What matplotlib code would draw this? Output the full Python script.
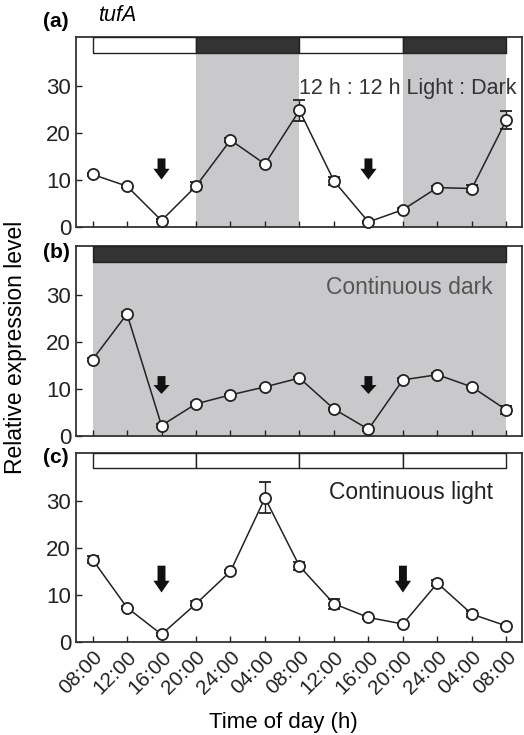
import matplotlib
matplotlib.use("Agg")
import matplotlib.pyplot as plt

plt.rcParams['font.family'] = ['Liberation Sans', 'DejaVu Sans']

# time points (13 samples, every 4 h over 48 h)
time_labels = ["08:00", "12:00", "16:00", "20:00", "24:00", "04:00", "08:00",
               "12:00", "16:00", "20:00", "24:00", "04:00", "08:00"]
x = list(range(len(time_labels)))

# (a) 12 h : 12 h light/dark
ld_mean = [11.2, 8.7, 1.4, 8.7, 18.5, 13.4, 24.8, 9.8, 1.1, 3.7, 8.4, 8.2, 22.8]
ld_err = [0.3, 0.3, 0.3, 0.8, 0.4, 0.3, 2.3, 0.8, 0.3, 0.3, 0.3, 0.8, 1.9]

# (b) continuous dark
dd_mean = [16.2, 25.9, 2.2, 6.8, 8.7, 10.4, 12.3, 5.7, 1.4, 11.9, 13.0, 10.4, 5.5]
dd_err = [0.3, 0.5, 0.3, 0.3, 0.3, 0.3, 0.3, 0.3, 0.3, 0.3, 0.3, 0.3, 0.8]

# (c) continuous light
ll_mean = [17.6, 7.4, 1.7, 8.2, 15.1, 30.7, 16.2, 8.2, 5.3, 3.9, 12.6, 6.0, 3.5]
ll_err = [0.8, 0.3, 0.3, 0.5, 0.3, 3.3, 0.8, 1.0, 0.3, 0.3, 0.6, 0.7, 0.3]

# arrows marking troughs (x index of each arrow)
ld_arrows = [2, 8]
dd_arrows = [2, 8]
ll_arrows = [2, 9]

# light (white) / dark (black) bars at the top, as (start, end, is_dark)
ld_bars = [(0, 3, False), (3, 6, True), (6, 9, False), (9, 12, True)]
dd_bars = [(0, 12, True)]
ll_bars = [(0, 3, False), (3, 6, False), (6, 9, False), (9, 12, False)]

GRAY = "#c9c9cb"
DARK = "#333333"
YTOP = 40.3
BAR_LOW = 37.0

fig = plt.figure(figsize=(5.24, 7.35), dpi=100)
left, width, height = 0.145, 0.851, 0.258
ax_a = fig.add_axes([left, 0.691, width, height])
ax_b = fig.add_axes([left, 0.407, width, height])
ax_c = fig.add_axes([left, 0.126, width, height])


def draw_panel(ax, mean, err, bars, arrows, arrow_y, head_len, shade):
    for s, e in shade:
        ax.axvspan(s, e, color=GRAY, lw=0, zorder=0)
    for s, e, dark in bars:
        ax.fill_between([s, e], BAR_LOW, YTOP, color=DARK if dark else "white",
                        edgecolor="#222222", lw=1.0, zorder=3)
    ax.errorbar(x, mean, yerr=err, fmt="-o", color="#222222", lw=1.1,
                mfc="white", mec="#222222", ms=8, mew=1.3, capsize=4,
                elinewidth=1.0, capthick=1.0, zorder=4, clip_on=False)
    # downward block arrows (vertical, so width is in x units, length in y units)
    for xa in arrows:
        ax.arrow(xa, arrow_y[0], 0, arrow_y[1] - arrow_y[0], width=0.23,
                 head_width=0.47, head_length=head_len, length_includes_head=True,
                 color="#111111", lw=0, zorder=5)
    ax.set_xlim(-0.48, 12.45)
    ax.set_ylim(0, YTOP)
    ax.set_yticks([0, 10, 20, 30])
    ax.set_xticks(x)
    ax.tick_params(direction="in", length=4, width=1, labelsize=16, colors="#222222")
    for sp in ax.spines.values():
        sp.set_linewidth(1.3)
        sp.set_color("#333333")


draw_panel(ax_a, ld_mean, ld_err, ld_bars, ld_arrows, (14.6, 10.1), 2.3, [(3, 6), (9, 12)])
draw_panel(ax_b, dd_mean, dd_err, dd_bars, dd_arrows, (12.7, 8.9), 1.9, [(0, 12)])
draw_panel(ax_c, ll_mean, ll_err, ll_bars, ll_arrows, (16.3, 10.6), 2.5, [])

ax_a.set_xticklabels([])
ax_b.set_xticklabels([])
ax_c.set_xticklabels(time_labels, rotation=45, ha="right", va="top",
                     rotation_mode="anchor", fontsize=15)

ax_a.text(5.98, 29.5, "12 h : 12 h Light : Dark", fontsize=15.5, color="#333333",
          va="center", ha="left", zorder=6)
ax_b.text(11.6, 31.5, "Continuous dark", fontsize=16.5, color="#555555",
          va="center", ha="right", zorder=6)
ax_c.text(11.6, 31.8, "Continuous light", fontsize=16.5, color="#222222",
          va="center", ha="right", zorder=6)

fig.text(0.107, 0.971, "(a)", fontsize=15, fontweight="bold", ha="center", va="center")
fig.text(0.107, 0.657, "(b)", fontsize=15, fontweight="bold", ha="center", va="center")
fig.text(0.107, 0.378, "(c)", fontsize=15, fontweight="bold", ha="center", va="center")
fig.text(0.187, 0.979, "tufA", fontsize=15.5, style="italic", ha="left", va="center")

fig.text(0.03, 0.528, "Relative expression level", rotation=90, fontsize=16.5,
         ha="center", va="center")
fig.text(0.54, 0.017, "Time of day (h)", fontsize=16, ha="center", va="center")

fig.savefig("out.png", dpi=100)
